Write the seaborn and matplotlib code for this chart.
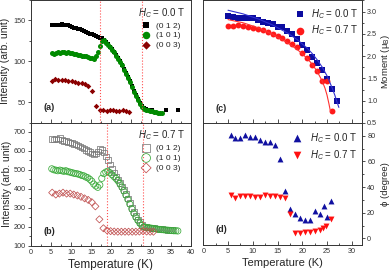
import numpy as np
import pandas as pd
import matplotlib
matplotlib.use('Agg')
import matplotlib.pyplot as plt
from matplotlib.ticker import MultipleLocator
import seaborn as sns

# ---- panel (a): H_C = 0.0 T intensities ----
T_a012 = [5.2, 5.7, 6.2, 6.7, 7.2, 7.7, 8.2, 8.7, 9.2, 9.7, 10.2, 10.7, 11.2, 11.7, 12.2, 12.7,
          13.2, 13.7, 14.2, 14.7, 15.2, 15.7, 16.2, 16.7, 17.2, 17.7, 18.2, 18.7, 19.2, 19.7,
          20.2, 20.7, 21.2, 21.7, 22.2, 22.7, 23.2, 23.7, 24.2, 24.7, 25.2, 25.7, 26.2, 26.7,
          27.2, 27.7, 28.2, 28.7, 29.2, 29.7, 30.2, 33.7, 36.7]
I_a012 = [144, 145, 145, 145, 145, 146, 145, 144, 144, 143, 142, 141, 141, 140, 139, 138,
          137, 136, 135, 134, 133, 132, 131, 130, 129, 128, 126, 124, 121, 118,
          115, 112, 108, 104, 100, 96, 91, 86, 81, 76, 70, 64, 59, 54,
          49, 45, 43, 42, 41, 41, 40, 40, 40]

T_a101 = [5.2, 5.7, 6.2, 6.7, 7.2, 7.7, 8.2, 8.7, 9.2, 9.7, 10.2, 10.7, 11.2, 11.7, 12.2, 12.7,
          13.2, 13.7, 14.2, 14.7, 15.2, 15.7, 16.2, 16.7, 17.2, 17.7, 18.2, 18.7, 19.2, 19.7,
          20.2, 20.7, 21.2, 21.7, 22.2, 22.7, 23.2, 23.7, 24.2, 24.7, 25.2, 25.7, 26.2, 26.7,
          27.2, 27.7, 28.2, 28.7, 29.2, 29.7, 30.2, 30.7, 31.2, 31.7, 32.2, 32.7]
I_a101 = [110, 109, 110, 111, 110, 112, 111, 110, 111, 110, 110, 109, 109, 108, 108, 107,
          107, 106, 105, 104, 104, 103, 106, 112, 119, 125, 126, 123, 120, 117,
          114, 111, 107, 103, 99, 95, 90, 85, 80, 75, 69, 63, 58, 53,
          48, 44, 42, 41, 40, 39, 39, 38, 38, 37, 37, 37]

T_a003 = [5.2, 6.0, 6.8, 7.7, 8.5, 9.3, 10.2, 11.0, 11.8, 12.7, 13.5, 14.3, 15.2, 16.2,
          17.3, 18.1, 18.9, 19.7, 20.5, 21.3, 22.1, 22.9, 23.7, 24.4]
I_a003 = [76, 78, 77, 77, 77, 76, 76, 75, 74, 74, 72, 70, 64, 46,
          40, 40, 39, 40, 40, 39, 39, 40, 39, 38]

# ---- panel (b): H_C = 0.7 T intensities ----
T_b012 = [5.2, 5.7, 6.2, 6.7, 7.2, 7.7, 8.2, 8.7, 9.2, 9.7, 10.2, 10.7, 11.2, 11.7, 12.2, 12.7,
          13.2, 13.7, 14.2, 14.7, 15.2, 15.7, 16.2, 16.7, 17.2, 17.7, 18.2, 18.7, 19.2, 19.7,
          20.2, 20.7, 21.2, 21.7, 22.2, 22.7, 23.2, 23.7, 24.2, 24.7, 25.2, 25.7, 26.2, 26.7,
          27.2, 27.7, 28.2, 28.7, 29.2, 29.7, 30.2, 30.7, 31.2, 31.7, 32.2, 32.7, 33.2, 33.7,
          34.2, 34.7, 35.2]
I_b012 = [662, 660, 665, 658, 668, 655, 650, 652, 645, 642, 640, 635, 632, 628, 622, 618,
          612, 605, 598, 592, 585, 580, 585, 595, 610, 605, 590, 570, 550, 528,
          505, 485, 465, 450, 432, 413, 393, 372, 350, 325, 300, 278, 258, 240,
          225, 210, 203, 200, 198, 196, 195, 194, 192, 191, 190, 188, 187, 186,
          185, 184, 183]

T_b101 = [5.2, 5.7, 6.2, 6.7, 7.2, 7.7, 8.2, 8.7, 9.2, 9.7, 10.2, 10.7, 11.2, 11.7, 12.2, 12.7,
          13.2, 13.7, 14.2, 14.7, 15.2, 15.7, 16.2, 16.7, 17.2, 17.7, 18.2, 18.7, 19.2, 19.7,
          20.2, 20.7, 21.2, 21.7, 22.2, 22.7, 23.2, 23.7, 24.2, 24.7, 25.2, 25.7, 26.2, 26.7,
          27.2, 27.7, 28.2, 28.7, 29.2, 29.7, 30.2, 30.7, 31.2, 31.7, 32.2, 32.7, 33.2, 33.7,
          34.2, 34.7, 35.2, 35.7, 36.2, 36.7]
I_b101 = [505, 500, 498, 495, 498, 495, 492, 495, 490, 488, 485, 482, 480, 478, 475, 470,
          468, 462, 458, 450, 440, 425, 415, 408, 420, 455, 480, 488, 492, 485,
          475, 465, 455, 443, 428, 410, 390, 368, 345, 320, 295, 272, 252, 235,
          220, 208, 200, 198, 196, 195, 193, 192, 190, 188, 187, 186, 185, 184,
          183, 182, 181, 180, 180, 179]

T_b003 = [5.3, 6.2, 7.1, 8.0, 8.9, 9.8, 10.7, 11.6, 12.5, 13.4, 14.3, 15.2, 16.1,
          17.1, 18.1, 19.0, 19.9, 20.8, 21.7, 22.6, 23.5, 24.4, 25.3, 26.2, 27.1, 28.0,
          28.9, 29.8, 30.6]
I_b003 = [380, 370, 375, 380, 375, 375, 370, 365, 358, 350, 342, 330, 308,
          240, 193, 182, 178, 176, 175, 175, 175, 175, 175, 175, 176, 178,
          176, 175, 175]

# ---- panel (c): ordered moment ----
T_c0 = [5, 6, 7, 8, 9, 10, 11, 12, 13, 14, 15, 16, 17, 18, 19, 20, 21, 22, 23, 24, 25, 26, 27]
M_c0 = [2.90, 2.87, 2.86, 2.86, 2.85, 2.85, 2.82, 2.76, 2.74, 2.72, 2.66, 2.65, 2.56, 2.49,
        2.38, 2.26, 2.13, 1.99, 1.85, 1.68, 1.48, 1.26, 1.00]
T_c7 = [5, 6, 7, 8, 9, 10, 11, 12, 13, 14, 15, 16, 17, 18, 19, 20, 21, 22, 23, 24, 25, 26]
M_c7 = [2.68, 2.68, 2.69, 2.67, 2.66, 2.63, 2.61, 2.58, 2.55, 2.50, 2.46, 2.40, 2.35, 2.28,
        2.20, 2.08, 1.95, 1.80, 1.67, 1.44, 1.44, 0.76]
# fitted curves
T_fit0 = [5.0, 8.0, 11.0, 14.0, 17.0, 19.0, 21.0, 22.0, 23.0, 24.0, 25.0, 26.0, 26.6, 27.0, 27.4]
M_fit0 = [3.03, 2.95, 2.84, 2.70, 2.52, 2.37, 2.18, 2.06, 1.92, 1.76, 1.56, 1.30, 1.12, 0.98, 0.85]
T_fit7 = [5.0, 8.0, 11.0, 14.0, 17.0, 19.0, 21.0, 22.0, 23.0, 24.0, 24.6, 25.0, 25.4, 25.7]
M_fit7 = [2.82, 2.75, 2.64, 2.49, 2.30, 2.15, 1.95, 1.82, 1.66, 1.45, 1.28, 1.13, 0.93, 0.76]

# ---- panel (d): angle phi ----
T_d0 = [5.5, 6.5, 7.5, 8.5, 9.5, 10.5, 11.5, 12.5, 13.5, 14.5, 15.5, 16.5, 17.5, 18.5,
        19.5, 20.5, 21.5, 22.5, 23.5, 24.3, 25.0, 25.8]
P_d0 = [80.5, 78.4, 78.4, 80.5, 79, 79, 77, 75, 75, 72.6, 61.6, 36.7, 22.9, 19.2,
        16, 14.3, 14.6, 21.5, 19, 25, 17, 29]
T_d7 = [5.5, 6.5, 7.5, 8.5, 9.5, 10.5, 11.5, 12.5, 13.5, 14.5, 15.5, 16.5, 17.5, 18.5,
        19.5, 20.5, 21.5, 22.5, 23.5, 24.2, 24.9, 25.8]
P_d7 = [33.5, 31.3, 33.3, 33.3, 33.3, 32, 32, 33.5, 33, 33, 32.5, 31.3, 18.8, 4.5,
        4.5, 5, 5, 5.5, 6.5, 8, 9.5, 15]

sns.set_style('ticks')
plt.rcParams['font.family'] = ['Liberation Sans', 'DejaVu Sans']
plt.rcParams['mathtext.fontset'] = 'custom'
plt.rcParams['mathtext.it'] = 'Liberation Sans:italic'
plt.rcParams['mathtext.rm'] = 'Liberation Sans'

fig = plt.figure(figsize=(3.9, 2.7), dpi=100)
ax_a = fig.add_axes([31 / 390, 1 - 122.7 / 270, 160 / 390, 122.7 / 270])
ax_b = fig.add_axes([31 / 390, 1 - 246 / 270, 160 / 390, 123.3 / 270])
ax_c = fig.add_axes([203.3 / 390, 1 - 123 / 270, 158.7 / 390, 123 / 270])
ax_d = fig.add_axes([203.3 / 390, 1 - 245 / 270, 158.7 / 390, 122 / 270])

tick_fs = 5.2
lab_fs = 7.5
leg_fs = 6


def style_axis(ax, right=False):
    for s in ax.spines.values():
        s.set_linewidth(0.7)
        s.set_color('#333333')
    ax.tick_params(axis='x', which='both', direction='in', labelsize=tick_fs,
                   width=0.6, colors='#333333', pad=2)
    ax.tick_params(axis='x', which='major', length=3)
    ax.tick_params(axis='x', which='minor', length=1.5)
    ax.tick_params(axis='y', which='both', direction='out', labelsize=tick_fs,
                   width=0.6, colors='#333333', pad=1.2)
    ax.tick_params(axis='y', which='major', length=2.5)
    ax.tick_params(axis='y', which='minor', length=1.3)
    if right:
        ax.yaxis.tick_right()
        ax.yaxis.set_label_position('right')
        ax.tick_params(axis='y', which='both', left=False, right=True)


# ---- (a) ----
sns.scatterplot(x=T_a012, y=I_a012, ax=ax_a, marker='s', color='black', s=10,
                linewidth=0, label='(0 1 2)')
sns.scatterplot(x=T_a101, y=I_a101, ax=ax_a, marker='o', color='#008a00', s=13,
                linewidth=0, label='(1 0 1)')
sns.scatterplot(x=T_a003, y=I_a003, ax=ax_a, marker='D', color='#8b0000', s=8,
                linewidth=0, label='(0 0 3)')
for xv in [17.3, 27.8]:
    ax_a.axvline(xv, color='#ff5050', ls=':', lw=0.8)
ax_a.set_xlim(0, 40)
ax_a.set_ylim(25, 175)
ax_a.xaxis.set_major_locator(MultipleLocator(5))
ax_a.xaxis.set_minor_locator(MultipleLocator(2.5))
ax_a.yaxis.set_major_locator(MultipleLocator(50))
ax_a.yaxis.set_minor_locator(MultipleLocator(25))
style_axis(ax_a)
ax_a.tick_params(axis='x', labelbottom=False)
ax_a.set_xlabel('')
ax_a.set_ylabel('Intensity (arb. unit)', fontsize=lab_fs, labelpad=3)
ax_a.text(0.075, 0.12, '(a)', transform=ax_a.transAxes, fontsize=6.5,
          fontweight='bold', va='center')
ax_a.legend(loc='upper right', bbox_to_anchor=(1.0, 1.0), frameon=False,
            fontsize=leg_fs, title=r'$H_C$ = 0.0 T', title_fontsize=7,
            handletextpad=0.2, labelspacing=0.25, borderaxespad=0.3,
            markerscale=1.5, alignment='left')

# ---- (b) ----
sns.scatterplot(x=T_b012, y=I_b012, ax=ax_b, marker='s', facecolor='none',
                edgecolor='#7a7a7a', s=16, linewidth=0.55, label='(0 1 2)')
sns.scatterplot(x=T_b101, y=I_b101, ax=ax_b, marker='o', facecolor='none',
                edgecolor='#3aaa3a', s=20, linewidth=0.55, label='(1 0 1)')
sns.scatterplot(x=T_b003, y=I_b003, ax=ax_b, marker='D', facecolor='none',
                edgecolor='#c05050', s=13, linewidth=0.55, label='(0 0 3)')
for xv in [18.9, 27.9]:
    ax_b.axvline(xv, color='#ff5050', ls=':', lw=0.8)
ax_b.set_xlim(0, 40)
ax_b.set_ylim(100, 747)
ax_b.xaxis.set_major_locator(MultipleLocator(5))
ax_b.xaxis.set_minor_locator(MultipleLocator(2.5))
ax_b.yaxis.set_major_locator(MultipleLocator(100))
ax_b.yaxis.set_minor_locator(MultipleLocator(50))
style_axis(ax_b)
ax_b.set_xlabel('Temperature (K)', fontsize=8.5, labelpad=2)
ax_b.set_ylabel('Intensity (arb. unit)', fontsize=lab_fs, labelpad=1)
ax_b.text(0.075, 0.116, '(b)', transform=ax_b.transAxes, fontsize=6.5,
          fontweight='bold', va='center')
ax_b.legend(loc='upper right', bbox_to_anchor=(1.0, 1.0), frameon=False,
            fontsize=leg_fs, title=r'$H_C$ = 0.7 T', title_fontsize=7,
            handletextpad=0.2, labelspacing=0.25, borderaxespad=0.3,
            markerscale=1.4, alignment='left')

# ---- (c) ----
sns.lineplot(x=T_fit0, y=M_fit0, ax=ax_c, color='#3030d0', lw=0.8)
sns.lineplot(x=T_fit7, y=M_fit7, ax=ax_c, color='#ff3030', lw=0.8)
sns.scatterplot(x=T_c0, y=M_c0, ax=ax_c, marker='s', color='#0c0ca0', s=13,
                linewidth=0, label=r'$H_C$ = 0.0 T')
sns.scatterplot(x=T_c7, y=M_c7, ax=ax_c, marker='o', color='#ff1a1a', s=18,
                linewidth=0, label=r'$H_C$ = 0.7 T')
ax_c.set_xlim(0, 32.08)
ax_c.set_ylim(0.5, 3.26)
ax_c.xaxis.set_major_locator(MultipleLocator(5))
ax_c.xaxis.set_minor_locator(MultipleLocator(2.5))
ax_c.yaxis.set_major_locator(MultipleLocator(0.5))
ax_c.yaxis.set_minor_locator(MultipleLocator(0.25))
style_axis(ax_c, right=True)
ax_c.tick_params(axis='x', labelbottom=False)
ax_c.set_ylabel(r'Moment ($\mathrm{\mu_B}$)', fontsize=6.8, va='center')
ax_c.yaxis.set_label_coords(1.145, 0.5)
ax_c.text(0.08, 0.12, '(c)', transform=ax_c.transAxes, fontsize=6.5,
          fontweight='bold', va='center')
ax_c.legend(loc='upper right', bbox_to_anchor=(1.02, 1.0), frameon=False,
            fontsize=7, handletextpad=0.1, labelspacing=0.3, borderaxespad=0.3,
            markerscale=1.3)

# ---- (d) ----
sns.scatterplot(x=T_d0, y=P_d0, ax=ax_d, marker='^', color='#1010a0', s=18,
                linewidth=0, label=r'$H_C$ = 0.0 T')
sns.scatterplot(x=T_d7, y=P_d7, ax=ax_d, marker='v', color='#ff1010', s=18,
                linewidth=0, label=r'$H_C$ = 0.7 T')
ax_d.set_xlim(0, 32.08)
ax_d.set_ylim(-5.2, 89.9)
ax_d.xaxis.set_major_locator(MultipleLocator(5))
ax_d.xaxis.set_minor_locator(MultipleLocator(2.5))
ax_d.yaxis.set_major_locator(MultipleLocator(20))
ax_d.yaxis.set_minor_locator(MultipleLocator(10))
style_axis(ax_d, right=True)
ax_d.set_xlabel('Temperature (K)', fontsize=8, labelpad=2)
ax_d.set_ylabel('ϕ (degree)', fontsize=6.8, va='center')
ax_d.yaxis.set_label_coords(1.145, 0.5)
ax_d.text(0.08, 0.123, '(d)', transform=ax_d.transAxes, fontsize=6.5,
          fontweight='bold', va='center')
ax_d.legend(loc='upper right', bbox_to_anchor=(1.02, 1.0), frameon=False,
            fontsize=7, handletextpad=0.3, labelspacing=0.35, borderaxespad=0.4,
            markerscale=1.3)

fig.savefig('out.png', dpi=100)
